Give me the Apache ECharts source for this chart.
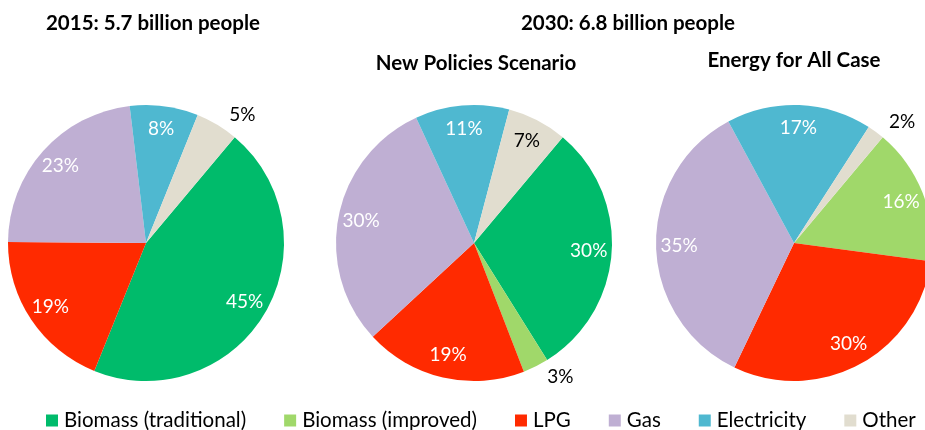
<!DOCTYPE html>
<html>
<head>
<meta charset="utf-8">
<script src="https://cdn.jsdelivr.net/npm/echarts@6/dist/echarts.min.js"></script>
<style>
  html, body { margin: 0; padding: 0; background: #fff; }
  #chart { width: 925px; height: 430px; }
</style>
</head>
<body>
<div id="chart"></div>
<script>
// categories (legend order, also clockwise slice order)
var categories = ['Biomass (traditional)', 'Biomass (improved)', 'LPG', 'Gas', 'Electricity', 'Other'];
var colors = ['#00BB6B', '#A0D86A', '#FF2A00', '#BFAFD3', '#4FB8D0', '#E1DDCF'];

// shares in %
var share2015 = [45, 0, 19, 23, 8, 5];
var shareNPS = [30, 3, 19, 30, 11, 7];
var shareEAC = [0, 16, 30, 35, 17, 2];

var titles = ['2015: 5.7 billion people', '2030: 6.8 billion people', 'New Policies Scenario', 'Energy for All Case'];

var FONT = 'Lato';

// pie data with colours
function pieData(values) {
  return values.map(function (v, i) {
    return { name: categories[i], value: v, itemStyle: { color: colors[i] } };
  });
}

// label layer: inner labels sit near 0.8 r, small ones outside
function labelData(values) {
  return values.map(function (v, i) {
    var outside = v < 6;
    return {
      name: categories[i],
      value: v,
      itemStyle: { color: 'rgba(0,0,0,0)' },
      label: {
        show: v > 0,
        position: outside ? 'outside' : 'inside',
        color: (outside || categories[i] === 'Other') ? '#000' : '#fff'
      }
    };
  });
}

var centers = [[146, 243], [474, 243], [794, 243]];
var allShares = [share2015, shareNPS, shareEAC];

var series = [];
allShares.forEach(function (vals, k) {
  series.push({
    type: 'pie',
    center: centers[k],
    radius: [0, 138],
    startAngle: 50,
    clockwise: true,
    silent: true,
    animation: false,
    label: { show: false },
    labelLine: { show: false },
    itemStyle: { borderWidth: 0 },
    data: pieData(vals)
  });
});
allShares.forEach(function (vals, k) {
  series.push({
    type: 'pie',
    center: centers[k],
    radius: [86, 138],
    startAngle: 50,
    clockwise: true,
    silent: true,
    animation: false,
    avoidLabelOverlap: false,
    label: {
      formatter: '{c}%',
      fontFamily: FONT,
      fontSize: 19,
      distanceToLabelLine: 6
    },
    labelLine: { show: false, length: 12, length2: 0 },
    itemStyle: { borderWidth: 0 },
    data: labelData(vals)
  });
});

var chart = echarts.init(document.getElementById('chart'), null, { renderer: 'canvas' });

var titleStyle = { fontFamily: FONT, fontWeight: 'bold', fontSize: 20.5, color: '#000' };

var option = {
  animation: false,
  title: [
    { text: titles[0], left: 148, top: 8, textAlign: 'center', textStyle: titleStyle },
    { text: titles[1], left: 623, top: 8, textAlign: 'center', textStyle: titleStyle },
    { text: titles[2], left: 471, top: 48, textAlign: 'center', textStyle: titleStyle },
    { text: titles[3], left: 789, top: 45, textAlign: 'center', textStyle: titleStyle }
  ],
  legend: {
    left: 41,
    top: 405,
    icon: 'rect',
    itemWidth: 12,
    itemHeight: 12,
    itemGap: 38,
    selectedMode: false,
    textStyle: { fontFamily: FONT, fontSize: 20.5, color: '#000', padding: [0, 0, 0, 1] },
    data: categories.map(function (c, i) {
      return { name: c, itemStyle: { color: colors[i] } };
    })
  },
  series: series
};

chart.setOption(option);
</script>
</body>
</html>
